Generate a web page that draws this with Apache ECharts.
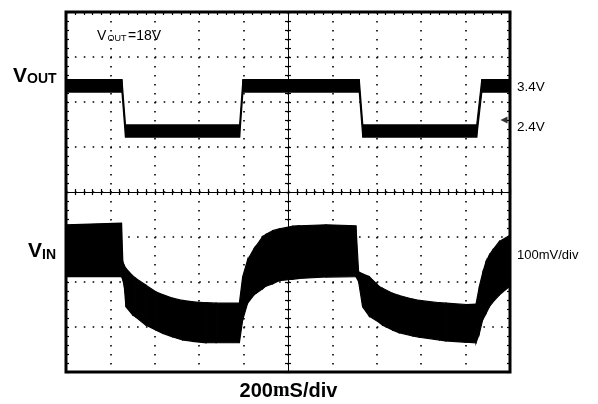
<!DOCTYPE html>
<html>
<head>
<meta charset="utf-8">
<script src="https://cdn.jsdelivr.net/npm/echarts@6/dist/echarts.min.js"></script>
<style>
  html, body { margin: 0; padding: 0; background: #fff; }
  #chart { width: 598px; height: 404px; }
</style>
</head>
<body>
<div id="chart"></div>
<script>
// time in ms (200 ms/div, 10 div), level in divisions (0..8)
const voutTime  = [0, 252, 268, 782, 797, 1321, 1337, 1850, 1873, 2000]
const voutUpper = [6.50, 6.50, 5.49, 5.49, 6.50, 6.50, 5.49, 5.49, 6.50, 6.50]
const voutLower = [6.22, 6.22, 5.22, 5.22, 6.22, 6.22, 5.22, 5.22, 6.22, 6.22]

const vinTime  = [0, 250, 256, 263, 270, 300, 315, 360, 405, 435, 480, 525, 571, 631, 676, 781,
  796, 818, 848, 856, 886, 901, 931, 961, 1021, 1051, 1171, 1306,
  1318, 1336, 1366, 1411, 1426, 1471, 1501, 1562, 1592, 1682, 1712, 1802, 1847,
  1862, 1877, 1892, 1907, 1922, 1952, 2000]
const vinUpper = [3.27, 3.31, 2.45, 2.36, 2.30, 2.14, 2.08, 1.93, 1.78, 1.72, 1.64, 1.59, 1.56, 1.54, 1.53, 1.53,
  2.12, 2.49, 2.75, 2.80, 3.01, 3.06, 3.14, 3.18, 3.24, 3.25, 3.27, 3.25,
  2.23, 2.18, 2.12, 1.90, 1.86, 1.75, 1.70, 1.62, 1.59, 1.54, 1.53, 1.50, 1.51,
  1.90, 2.20, 2.45, 2.60, 2.71, 2.90, 3.04]
const vinLower = [2.12, 2.12, 2.05, 1.88, 1.45, 1.27, 1.22, 1.04, 0.93, 0.86, 0.78, 0.71, 0.68, 0.65, 0.65, 0.65,
  1.16, 1.53, 1.72, 1.75, 1.85, 1.91, 1.96, 2.03, 2.06, 2.08, 2.11, 2.12,
  2.01, 1.45, 1.24, 1.10, 1.04, 0.93, 0.87, 0.80, 0.77, 0.71, 0.69, 0.66, 0.65,
  0.86, 1.16, 1.30, 1.45, 1.55, 1.71, 1.91]

const refMarker = [[1973, 5.6]]

const FONT = '"Liberation Sans", Arial, sans-serif'

const chart = echarts.init(document.getElementById('chart'))

// filled band between an upper and lower envelope, drawn segment by segment
function band(name, times, upper, lower) {
  return {
    name,
    type: 'custom',
    silent: true,
    clip: true,
    xAxisIndex: 0,
    yAxisIndex: 0,
    data: times.map((t, i) => [t, upper[i], lower[i]]),
    renderItem: function (params, api) {
      const i = params.dataIndex
      if (i === 0) return
      const p = [
        api.coord([times[i - 1], upper[i - 1]]),
        api.coord([times[i], upper[i]]),
        api.coord([times[i], lower[i]]),
        api.coord([times[i - 1], lower[i - 1]])
      ]
      return {
        type: 'polygon',
        shape: { points: p },
        style: { fill: '#000', stroke: '#000', lineWidth: 1.2 }
      }
    }
  }
}

const hidden = { show: false }
const tx = { type: 'value', min: 0, max: 2000, interval: 200, axisLabel: hidden, splitLine: hidden }
const ty = { type: 'value', min: 0, max: 8, interval: 1, axisLabel: hidden, splitLine: hidden }
const ticks = (inside) => ({
  axisTick: { show: true, inside, length: 3, lineStyle: { color: '#000', width: 1.2 } },
  minorTick: { show: true, splitNumber: 5, length: 3, lineStyle: { color: '#000', width: 1.2 } }
})

chart.setOption({
  animation: false,
  grid: {
    left: 66, top: 12, width: 444, height: 360,
    show: true, borderColor: '#000', borderWidth: 3,
    outerBoundsMode: 'none'
  },
  xAxis: [
    { ...tx, position: 'bottom', axisLine: { show: false, onZero: false }, axisTick: hidden,
      splitLine: { show: true, lineStyle: { color: '#000', width: 1.6, type: [1.6, 7.4] } } },
    { ...tx, position: 'top', axisLine: { show: false, onZero: false }, ...ticks(true) },
    { ...tx, position: 'bottom', axisLine: { show: true, onZero: true, onZeroAxisIndex: 2, lineStyle: { color: '#000', width: 1 } }, ...ticks(false) },
    { ...tx, position: 'bottom', axisLine: { show: true, onZero: true, onZeroAxisIndex: 2, lineStyle: { color: '#000', width: 1 } }, ...ticks(true) },
    { type: 'value', min: -1000, max: 1000, show: false }
  ],
  yAxis: [
    { ...ty, position: 'left', axisLine: { show: false, onZero: false }, ...ticks(true),
      splitLine: { show: true, lineStyle: { color: '#000', width: 1.6, type: [1.6, 7.28] } } },
    { ...ty, position: 'right', axisLine: { show: false, onZero: false }, ...ticks(true) },
    { type: 'value', min: -4, max: 4, show: false },
    { ...ty, position: 'left', axisLine: { show: true, onZero: true, onZeroAxisIndex: 4, lineStyle: { color: '#000', width: 1 } }, ...ticks(false) },
    { ...ty, position: 'left', axisLine: { show: true, onZero: true, onZeroAxisIndex: 4, lineStyle: { color: '#000', width: 1 } }, ...ticks(true) }
  ],
  series: [
    band('VOUT', voutTime, voutUpper, voutLower),
    band('VIN', vinTime, vinUpper, vinLower),
    {
      type: 'scatter',
      silent: true,
      data: refMarker,
      symbol: 'triangle',
      symbolRotate: 90,
      symbolSize: [7, 7],
      itemStyle: { color: '#000' }
    }
  ],
  graphic: [
    { type: 'text', x: 13, y: 76, style: { text: 'V', font: 'bold 21px ' + FONT, fill: '#000', verticalAlign: 'middle' } },
    { type: 'text', x: 27, y: 79, style: { text: 'OUT', font: 'bold 14px ' + FONT, fill: '#000', verticalAlign: 'middle' } },
    { type: 'text', x: 28, y: 251, style: { text: 'V', font: 'bold 21px ' + FONT, fill: '#000', verticalAlign: 'middle' } },
    { type: 'text', x: 42, y: 255, style: { text: 'IN', font: 'bold 14px ' + FONT, fill: '#000', verticalAlign: 'middle' } },
    { type: 'text', x: 97, y: 36.5, style: { text: 'V', font: '14px ' + FONT, fill: '#000', verticalAlign: 'middle' } },
    { type: 'text', x: 107.5, y: 38.5, style: { text: 'OUT', font: '9px ' + FONT, fill: '#000', verticalAlign: 'middle' } },
    { type: 'text', x: 128, y: 36.5, style: { text: '=18V', font: '14px ' + FONT, fill: '#000', verticalAlign: 'middle' } },
    { type: 'text', x: 517, y: 87, style: { text: '3.4V', font: '13.5px ' + FONT, fill: '#000', verticalAlign: 'middle' } },
    { type: 'text', x: 517, y: 127, style: { text: '2.4V', font: '13.5px ' + FONT, fill: '#000', verticalAlign: 'middle' } },
    { type: 'text', x: 517, y: 255, style: { text: '100mV/div', font: '13px ' + FONT, fill: '#000', verticalAlign: 'middle' } },
    {
      type: 'text', x: 288.5, y: 391,
      style: {
        text: '{a|200}{m|m}{a|S/div}',
        align: 'center', verticalAlign: 'middle',
        rich: {
          a: { font: 'bold 20px ' + FONT, fill: '#000' },
          m: { font: 'bold 20px "Liberation Serif", serif', fill: '#000' }
        }
      }
    }
  ]
})

window.addEventListener('resize', () => chart.resize())
</script>
</body>
</html>
